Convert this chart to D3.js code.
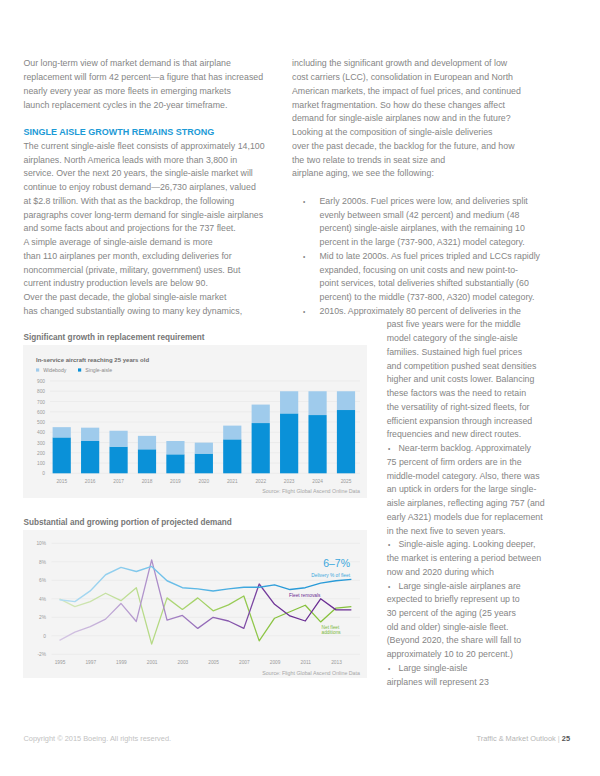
<!DOCTYPE html>
<html><head><meta charset="utf-8">
<script src="https://cdn.jsdelivr.net/npm/d3@7"></script>
<style>
body{margin:0;background:#fff;}
svg{display:block;font-family:"Liberation Sans",Arial,Helvetica,sans-serif;}
</style>
</head><body>
<svg id="page" width="600" height="776"></svg>
<script>
// ---------- DATA ----------
const barYears = ["2015","2016","2017","2018","2019","2020","2021","2022","2023","2024","2025"];
const singleAisle = [350,315,260,234,185,192,331,490,584,568,617];
const widebody    = [100,130,155,131,130,107,134,180,216,232,183];
const barTicks = [0,100,200,300,400,500,600,700,800,900];
const barSeries = ["Widebody","Single-aisle"];

const lineYears = [1995,1996,1997,1998,1999,2000,2001,2002,2003,2004,2005,2006,2007,2008,2009,2010,2011,2012,2013,2014];
const deliveryPct  = [3.9,3.7,4.85,6.6,7.4,6.95,7.5,5.95,5.2,5.07,4.85,5.07,5.25,5.25,5.5,5.0,5.2,5.7,5.95,6.1];
const removalsPct  = [-0.5,0.4,1.0,1.8,3.5,1.55,8.2,1.7,2.2,0.8,2.0,1.6,0.8,5.6,3.4,2.15,1.6,4.0,2.8,2.8];
const additionsPct = [4.0,3.15,3.7,4.6,3.8,5.2,-0.9,4.1,2.85,4.1,2.7,3.35,4.3,-0.55,1.9,2.6,3.3,1.5,3.0,3.15];
const lineYTicks = [-2,0,2,4,6,8,10];
const lineYTickLabels = ["-2%","0","2%","4%","6%","8%","10%"];
const lineXTicks = [1995,1997,1999,2001,2003,2005,2007,2009,2011,2013];

const leftText = [
 [0,"Our long-term view of market demand is that airplane"],
 [1,"replacement will form 42 percent\u2014a figure that has increased"],
 [2,"nearly every year as more fleets in emerging markets"],
 [3,"launch replacement cycles in the 20-year timeframe."],
 [6,"The current single-aisle fleet consists of approximately 14,100"],
 [7,"airplanes. North America leads with more than 3,800 in"],
 [8,"service. Over the next 20 years, the single-aisle market will"],
 [9,"continue to enjoy robust demand\u201426,730 airplanes, valued"],
 [10,"at $2.8 trillion. With that as the backdrop, the following"],
 [11,"paragraphs cover long-term demand for single-aisle airplanes"],
 [12,"and some facts about and projections for the 737 fleet."],
 [13,"A simple average of single-aisle demand is more"],
 [14,"than 110 airplanes per month, excluding deliveries for"],
 [15,"noncommercial (private, military, government) uses. But"],
 [16,"current industry production levels are below 90."],
 [17,"Over the past decade, the global single-aisle market"],
 [18,"has changed substantially owing to many key dynamics,"]
];
const heading = "SINGLE AISLE GROWTH REMAINS STRONG";
// indent types: p = paragraph, b = bullet start, c = bullet continuation, n = narrow column, nb = narrow bullet
const rightText = [
 [0,"p","including the significant growth and development of low"],
 [1,"p","cost carriers (LCC), consolidation in European and North"],
 [2,"p","American markets, the impact of fuel prices, and continued"],
 [3,"p","market fragmentation. So how do these changes affect"],
 [4,"p","demand for single-aisle airplanes now and in the future?"],
 [5,"p","Looking at the composition of single-aisle deliveries"],
 [6,"p","over the past decade, the backlog for the future, and how"],
 [7,"p","the two relate to trends in seat size and"],
 [8,"p","airplane aging, we see the following:"],
 [10,"b","Early 2000s. Fuel prices were low, and deliveries split"],
 [11,"c","evenly between small (42 percent) and medium (48"],
 [12,"c","percent) single-aisle airplanes, with the remaining 10"],
 [13,"c","percent in the large (737-900, A321) model category."],
 [14,"b","Mid to late 2000s. As fuel prices tripled and LCCs rapidly"],
 [15,"c","expanded, focusing on unit costs and new point-to-"],
 [16,"c","point services, total deliveries shifted substantially (60"],
 [17,"c","percent) to the middle (737-800, A320) model category."],
 [18,"b","2010s. Approximately 80 percent of deliveries in the"],
 [19,"n","past five years were for the middle"],
 [20,"n","model category of the single-aisle"],
 [21,"n","families. Sustained high fuel prices"],
 [22,"n","and competition pushed seat densities"],
 [23,"n","higher and unit costs lower. Balancing"],
 [24,"n","these factors was the need to retain"],
 [25,"n","the versatility of right-sized fleets, for"],
 [26,"n","efficient expansion through increased"],
 [27,"n","frequencies and new direct routes."],
 [28,"nb","Near-term backlog. Approximately"],
 [29,"n","75 percent of firm orders are in the"],
 [30,"n","middle-model category. Also, there was"],
 [31,"n","an uptick in orders for the large single-"],
 [32,"n","aisle airplanes, reflecting aging 757 (and"],
 [33,"n","early A321) models due for replacement"],
 [34,"n","in the next five to seven years."],
 [35,"nb","Single-aisle aging. Looking deeper,"],
 [36,"n","the market is entering a period between"],
 [37,"n","now and 2020 during which"],
 [38,"nb","Large single-aisle airplanes are"],
 [39,"n","expected to briefly represent up to"],
 [40,"n","30 percent of the aging (25 years"],
 [41,"n","old and older) single-aisle fleet."],
 [42,"n","(Beyond 2020, the share will fall to"],
 [43,"n","approximately 10 to 20 percent.)"],
 [44,"nb","Large single-aisle"],
 [45,"n","airplanes will represent 23"]
];

// ---------- PAGE ----------
const svg = d3.select("#page");
const bodyColor = "#858585";
const lineStep = 13.74, base0 = 66.4;
const bodyFont = 8.8;

// left column
svg.append("g").selectAll("text").data(leftText).join("text")
  .attr("x",23.5).attr("y",d=>base0+d[0]*lineStep)
  .attr("font-size",bodyFont).attr("fill",bodyColor).text(d=>d[1]);
svg.append("text").attr("x",23.5).attr("y",base0+5*lineStep)
  .attr("font-size",9).attr("font-weight","bold").attr("fill","#1c9ad6").text(heading);

// right column
const xFor = {p:292, b:319.5, c:319.5, n:386.7, nb:398.5};
const rg = svg.append("g");
rg.selectAll("text.l").data(rightText).join("text").attr("class","l")
  .attr("x",d=>xFor[d[1]]).attr("y",d=>base0+d[0]*lineStep)
  .attr("font-size",bodyFont).attr("fill",bodyColor).text(d=>d[2]);
rg.selectAll("text.bul").data(rightText.filter(d=>d[1]==="b"||d[1]==="nb")).join("text").attr("class","bul")
  .attr("x",d=>d[1]==="b"?303:388).attr("y",d=>base0+d[0]*lineStep)
  .attr("font-size",6.5).attr("fill",bodyColor).text("\u2022");

// ---------- BAR CHART ----------
svg.append("text").attr("x",23.5).attr("y",340.3).attr("font-size",8.2).attr("font-weight","bold")
  .attr("fill","#767676").text("Significant growth in replacement requirement");
svg.append("rect").attr("x",23).attr("y",345).attr("width",344).attr("height",153).attr("fill","#f4f4f4");
svg.append("text").attr("x",36).attr("y",362.2).attr("font-size",6).attr("font-weight","bold")
  .attr("fill","#6c6c6c").text("In-service aircraft reaching 25 years old");

const cWide = "#9fcbec", cSingle = "#0a91d8";
const legX = [36, 78];
barSeries.forEach((s,i)=>{
  svg.append("rect").attr("x",legX[i]).attr("y",368.4).attr("width",3.2).attr("height",3.2)
    .attr("fill", i===0?cWide:cSingle);
  svg.append("text").attr("x",legX[i]+7.3).attr("y",371.8).attr("font-size",5.2)
    .attr("fill","#8a8a8a").text(s);
});

const xb = d3.scaleBand().domain(barYears).range([47.5,360.2]).paddingInner(0.36).paddingOuter(0.18);
const yb = d3.scaleLinear().domain([0,900]).range([473.3,381]);

const gbGrid = svg.append("g");
gbGrid.selectAll("line").data(barTicks).join("line")
  .attr("x1",50).attr("x2",360).attr("y1",d=>yb(d)).attr("y2",d=>yb(d))
  .attr("stroke","#e6e6e6").attr("stroke-width",0.6);

const yAxisB = d3.axisLeft(yb).tickValues(barTicks).tickSize(0).tickPadding(0);
svg.append("g").attr("transform","translate(45,0)").call(yAxisB)
  .call(g=>g.select(".domain").remove())
  .call(g=>g.selectAll("text").attr("font-size",4.8).attr("fill","#9a9a9a").attr("font-family","Liberation Sans, Arial, sans-serif"));

const bars = svg.append("g");
bars.selectAll("rect.s").data(barYears).join("rect").attr("class","s")
  .attr("x",d=>xb(d)).attr("width",xb.bandwidth())
  .attr("y",(d,i)=>yb(singleAisle[i])).attr("height",(d,i)=>yb(0)-yb(singleAisle[i]))
  .attr("fill",cSingle);
bars.selectAll("rect.w").data(barYears).join("rect").attr("class","w")
  .attr("x",d=>xb(d)).attr("width",xb.bandwidth())
  .attr("y",(d,i)=>yb(singleAisle[i]+widebody[i])).attr("height",(d,i)=>yb(singleAisle[i])-yb(singleAisle[i]+widebody[i]))
  .attr("fill",cWide);

const xAxisB = d3.axisBottom(xb).tickSize(0).tickPadding(0);
svg.append("g").attr("transform","translate(0,479.2)").call(xAxisB)
  .call(g=>g.select(".domain").remove())
  .call(g=>g.selectAll("text").attr("font-size",4.8).attr("fill","#9a9a9a").attr("font-family","Liberation Sans, Arial, sans-serif"));

svg.append("text").attr("x",360).attr("y",492.5).attr("text-anchor","end").attr("font-size",5.3)
  .attr("fill","#a6a6a6").text("Source: Flight Global Ascend Online Data");

// ---------- LINE CHART ----------
svg.append("text").attr("x",23.5).attr("y",525.3).attr("font-size",8.2).attr("font-weight","bold")
  .attr("fill","#767676").text("Substantial and growing portion of projected demand");
svg.append("rect").attr("x",23).attr("y",530).attr("width",344).attr("height",148).attr("fill","#f4f4f4");

const xl = d3.scaleLinear().domain([1995,2013]).range([59.5,336]);
const yl = d3.scaleLinear().domain([-2,10]).range([654.3,543.3]);

svg.append("g").selectAll("line").data(lineYTicks).join("line")
  .attr("x1",51.7).attr("x2",360).attr("y1",d=>yl(d)).attr("y2",d=>yl(d))
  .attr("stroke","#e6e6e6").attr("stroke-width",0.6);

const yAxisL = d3.axisLeft(yl).tickValues(lineYTicks).tickFormat((d,i)=>lineYTickLabels[i]).tickSize(0).tickPadding(0);
svg.append("g").attr("transform","translate(46,0)").call(yAxisL)
  .call(g=>g.select(".domain").remove())
  .call(g=>g.selectAll("text").attr("font-size",4.8).attr("fill","#9a9a9a").attr("font-family","Liberation Sans, Arial, sans-serif"));

const xAxisL = d3.axisBottom(xl).tickValues(lineXTicks).tickFormat(d3.format("d")).tickSize(0).tickPadding(0);
svg.append("g").attr("transform","translate(0,660.2)").call(xAxisL)
  .call(g=>g.select(".domain").remove())
  .call(g=>g.selectAll("text").attr("font-size",4.8).attr("fill","#9a9a9a").attr("font-family","Liberation Sans, Arial, sans-serif"));

const defs = svg.append("defs");
function grad(id, c0, c1, c2){
  const g = defs.append("linearGradient").attr("id",id).attr("gradientUnits","userSpaceOnUse")
    .attr("x1",59).attr("x2",360).attr("y1",0).attr("y2",0);
  g.append("stop").attr("offset","0%").attr("stop-color",c0);
  g.append("stop").attr("offset","45%").attr("stop-color",c1);
  g.append("stop").attr("offset","75%").attr("stop-color",c2);
  g.append("stop").attr("offset","100%").attr("stop-color",c2);
}
grad("gBlue","#b3ddf3","#5cb8e6","#2a9bd8");
grad("gPurple","#d6c8e4","#9a74bd","#6a2d93");
grad("gGreen","#d5e8bd","#a6d36a","#86c13c");

const line = d3.line().x((d,i)=>xl(lineYears[i])).y(d=>yl(d));
const lg = svg.append("g").attr("fill","none").attr("stroke-linejoin","round");
lg.append("path").datum(additionsPct).attr("d",line).attr("stroke","url(#gGreen)").attr("stroke-width",1.3);
lg.append("path").datum(removalsPct).attr("d",line).attr("stroke","url(#gPurple)").attr("stroke-width",1.3);
lg.append("path").datum(deliveryPct).attr("d",line).attr("stroke","url(#gBlue)").attr("stroke-width",1.4);

svg.append("text").attr("x",350).attr("y",567.2).attr("text-anchor","end").attr("font-size",10.5)
  .attr("fill","#3aa7dd").text("6\u20137%");
svg.append("text").attr("x",350).attr("y",577).attr("text-anchor","end").attr("font-size",4.8)
  .attr("fill","#3aa7dd").text("Delivery % of fleet");
svg.append("text").attr("x",289).attr("y",597).attr("font-size",4.8)
  .attr("fill","#6a2d93").text("Fleet removals");
svg.append("text").attr("x",321.5).attr("y",628.7).attr("font-size",4.8)
  .attr("fill","#7cb83a").text("Net fleet");
svg.append("text").attr("x",321.5).attr("y",634.4).attr("font-size",4.8)
  .attr("fill","#7cb83a").text("additions");

svg.append("text").attr("x",360).attr("y",674.5).attr("text-anchor","end").attr("font-size",5.3)
  .attr("fill","#a6a6a6").text("Source: Flight Global Ascend Online Data");

// ---------- FOOTER ----------
svg.append("text").attr("x",23.5).attr("y",740.5).attr("font-size",7.4).attr("fill","#c2c2c2")
  .text("Copyright \u00a9 2015 Boeing. All rights reserved.");
const ft = svg.append("text").attr("x",570).attr("y",740.5).attr("text-anchor","end").attr("font-size",7.4);
ft.append("tspan").attr("fill","#b5b5b5").text("Traffic & Market Outlook ");
ft.append("tspan").attr("fill","#c8c8c8").text("| ");
ft.append("tspan").attr("fill","#555").attr("font-weight","bold").text("25");
</script>
</body></html>
